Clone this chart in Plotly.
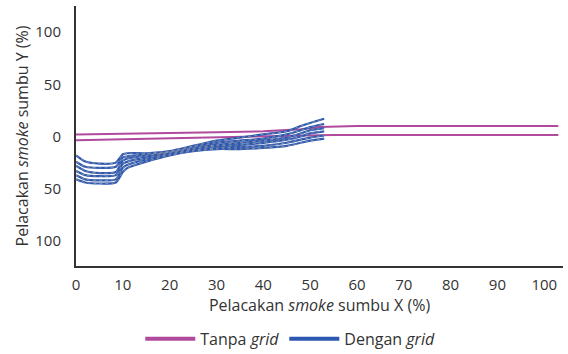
import plotly.graph_objects as go

# Tanpa grid (without grid) - two pink lines
pink_x = [0, 10, 20, 30, 40, 48, 52, 55, 57, 60, 80, 103]
pink_a = [2, 2.5, 3, 4, 5, 7, 9, 9.5, 10, 10, 10, 10]
pink_b = [-3.5, -2.5, -1.5, -0.5, 0.5, 1, 1.5, 1.5, 1.5, 1.5, 1.5, 1.5]

# Dengan grid (with grid) - blue lines
blue_x = [0, 2, 5, 8.5, 10, 11, 15, 20, 25, 30, 35, 40, 45, 48, 50, 53]
blue_1 = [-18, -24, -26, -25, -17, -16, -16, -14, -9, -4, -1, 2, 5, 10, 13, 17]
blue_2 = [-24, -29, -30, -29, -20, -19, -17, -15, -10, -6, -4, -2, 2, 6, 9, 12]
blue_3 = [-28, -33, -35, -34, -23, -21, -18, -15, -11, -8, -6, -4, -1, 3, 6, 8]
blue_4 = [-33, -37, -38, -37, -26, -24, -20, -16, -12, -9, -8, -6, -3, 0, 3, 5]
blue_5 = [-37, -41, -42, -41, -30, -27, -22, -17, -13, -11, -10, -9, -6, -3, -1, 1]
blue_6 = [-41, -44, -45, -44, -34, -30, -24, -18, -14, -12, -12, -11, -9, -6, -4, -2]

x_ticks = [0, 10, 20, 30, 40, 50, 60, 70, 80, 90, 100]
y_ticks = [-100, -50, 0, 50, 100]
y_tick_text = ["100", "50", "0", "50", "100"]

PINK = "#b04a9c"
BLUE = "#2c58b2"
GRAYD = "#8590a8"

fig = go.Figure()

for ys in [pink_a, pink_b]:
    fig.add_trace(go.Scatter(x=pink_x, y=ys, mode="lines",
                             line=dict(color=PINK, width=2), showlegend=False,
                             hoverinfo="skip"))

blues = [blue_1, blue_2, blue_3, blue_4, blue_5, blue_6]
for ys in blues:
    fig.add_trace(go.Scatter(x=blue_x, y=ys, mode="lines",
                             line=dict(color=BLUE, width=2.2, shape="spline", smoothing=0.6),
                             showlegend=False, hoverinfo="skip"))
for ys in blues:
    fig.add_trace(go.Scatter(x=blue_x, y=ys, mode="lines",
                             line=dict(color=GRAYD, width=1, dash="3px,3px", shape="spline", smoothing=0.6),
                             showlegend=False, hoverinfo="skip"))

# legend entries
fig.add_trace(go.Scatter(x=[None], y=[None], mode="lines",
                         line=dict(color=PINK, width=4), name="Tanpa <i>grid</i>"))
fig.add_trace(go.Scatter(x=[None], y=[None], mode="lines",
                         line=dict(color=BLUE, width=4), name="Dengan <i>grid</i>"))

FONT = "Open Sans"
fig.update_layout(
    width=568, height=354,
    margin=dict(l=76, r=5, t=6, b=88, autoexpand=False),
    plot_bgcolor="white", paper_bgcolor="white",
    font=dict(family=FONT, size=15, color="#333333"),
    legend=dict(orientation="h", x=0.44, xanchor="center", y=-0.215, yanchor="top",
                font=dict(size=16, color="#333333"), itemwidth=50,
                tracegroupgap=0),
    xaxis=dict(range=[0, 104], tickvals=x_ticks, showgrid=False, zeroline=False,
               showline=True, linecolor="#333333", linewidth=2, ticks="",
               automargin=False,
               ticklabelstandoff=4, tickfont=dict(size=15),
               title=dict(text="Pelacakan <i>smoke</i> sumbu X (%)", font=dict(size=16), standoff=4)),
    yaxis=dict(range=[-124, 125], tickvals=y_ticks, ticktext=y_tick_text,
               showgrid=False, zeroline=False, showline=True, linecolor="#333333",
               automargin=False,
               linewidth=2, ticks="", ticklabelstandoff=10, tickfont=dict(size=15),
               title=dict(text="Pelacakan <i>smoke</i> sumbu Y (%)", font=dict(size=16), standoff=3)),
)

fig.write_html("out.html")
